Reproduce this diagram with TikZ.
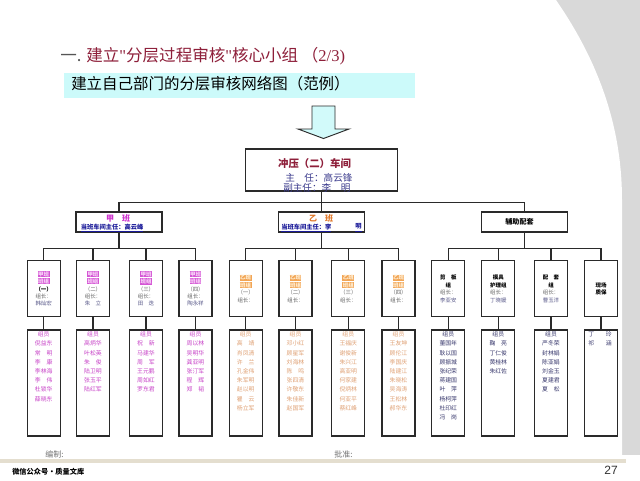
\documentclass[tikz,border=0pt]{standalone}
\usepackage{fontspec}
\setmainfont{Noto Sans CJK SC}
\newfontfamily\latinserif{Liberation Serif}
\newfontfamily\latinsans{Liberation Sans}
\definecolor{bggray}{HTML}{D9D9D9}
\definecolor{footband}{HTML}{E4DECF}
\definecolor{titlered}{HTML}{8E1F3A}
\definecolor{titlegray}{HTML}{555555}
\definecolor{subcyan}{HTML}{CCFAFA}
\definecolor{arrowcyan}{HTML}{D2FAFA}
\definecolor{navytxt}{HTML}{3A3A8C}
\definecolor{bluetxt}{HTML}{1A1A99}
\definecolor{magtxt}{HTML}{CC33CC}
\definecolor{oratxt}{HTML}{E0782A}
\definecolor{hlmag}{HTML}{D455D4}
\definecolor{hlmagtxt}{HTML}{F9D6F9}
\definecolor{hlora}{HTML}{F2A555}
\definecolor{hloratxt}{HTML}{FFF0D8}
\definecolor{memmag}{HTML}{C844C8}
\definecolor{memora}{HTML}{E0A276}
\definecolor{memnavy}{HTML}{3A3A6E}
\definecolor{grouptxt}{HTML}{666666}
\definecolor{namec}{HTML}{5A5A8A}
\definecolor{linec}{HTML}{2A2A2A}
\newcommand{\hlm}[1]{{\setlength{\fboxsep}{0.3pt}\colorbox{hlmag}{\textcolor{hlmagtxt}{\bfseries #1}}}}
\newcommand{\hlo}[1]{{\setlength{\fboxsep}{0.3pt}\colorbox{hlora}{\textcolor{hloratxt}{\bfseries #1}}}}
\newcommand{\sq}{{\latinserif\char"22}}
\tikzset{
  ln/.style={draw=linec, line width=0.85pt},
  bx/.style={draw=linec, line width=0.85pt, fill=white, inner sep=0pt},
  topbox/.style={bx, minimum width=114pt, minimum height=31.5pt},
  secbox/.style={bx, minimum width=64.5pt, minimum height=15pt},
  grpbox/.style={bx, minimum width=24.75pt, minimum height=42pt, align=center,
    text=grouptxt, font=\fontsize{4.1}{5.6}\selectfont},
  membox/.style={bx, minimum width=24.75pt, minimum height=79.5pt},
  memtxt/.style={anchor=north, align=center, inner sep=0pt, font=\fontsize{4.4}{6.9}\selectfont},
  plain/.style={inner sep=0pt}
}
\begin{document}
\begin{tikzpicture}[x=0.75pt,y=-0.75pt]
\useasboundingbox (0,0) rectangle (640,480);
% background
\fill[white] (0,0) rectangle (640,480);
\fill[bggray] (540,0) rectangle (640,455);
\fill[white] (0,0) -- (556,0) .. controls (594,55) and (622,120) .. (622,200) -- (622,455) -- (0,455) -- cycle;
\fill[footband] (0,458.5) rectangle (626,463);

% title
\node[plain, anchor=west, font=\fontsize{12.4}{14}\selectfont] (title) at (60,56)
  {\textcolor{titlegray}{一.} \textcolor{titlered}{建立\sq 分层过程审核\sq 核心小组 （{\latinserif 2/3)}}};
\node[plain, fill=subcyan, minimum width=263.25pt, minimum height=18.75pt, anchor=north west] (sub) at (64,73) {};
\node[plain, anchor=west, font=\fontsize{11.6}{13}\selectfont] (subt) at (71,83.5) {建立自己部门的分层审核网络图（范例）};

% arrow
\draw[fill=arrowcyan, draw=linec, line width=0.7pt]
  (312,106) -- (335,106) -- (335,129) -- (349,129) -- (323.5,138.5) -- (298,129) -- (312,129) -- cycle;

% top box
\node[topbox] (top) at (321.5,170) {};
\node[plain, font=\bfseries\fontsize{7.8}{9}\selectfont, text=titlered] (topt) at (314.5,163.5) {冲压（二）车间};
\node[plain, anchor=west, font=\fontsize{7.2}{8}\selectfont, text=navytxt] (dir1) at (285,177.5) {主　任：高云锋};
\node[plain, anchor=west, font=\fontsize{7.2}{8}\selectfont, text=navytxt] (dir2) at (283,187.5) {副主任：李　明};

% second level
\node[secbox] (jia) at (119,222) {};
\node[plain, text=magtxt, font=\bfseries\fontsize{6}{7}\selectfont] (jiat) at (118,218) {甲　班};
\node[plain, anchor=west, text=bluetxt, font=\bfseries\fontsize{4.7}{5}\selectfont] (jiad) at (80.5,228) {\underline{当班车间主任：高云峰}};

\node[secbox] (yi) at (321.5,222) {};
\node[plain, text=oratxt, font=\bfseries\fontsize{6}{7}\selectfont] (yit) at (321,218) {乙　班};
\node[plain, anchor=west, text=bluetxt, font=\bfseries\fontsize{4.7}{5}\selectfont] (yid) at (281,228) {\underline{当班车间主任：李}};
\node[plain, text=bluetxt, font=\bfseries\fontsize{4.7}{5}\selectfont] (yid2) at (358.5,228) {\underline{明}};

\node[secbox] (fz) at (524.5,222) {};
\node[plain, font=\bfseries\fontsize{5.3}{6}\selectfont] (fzt) at (519.5,222) {辅助配套};

\draw[ln] (top.south) -- (yi.north);
\draw[ln] (top.south) -- ++(0,11) -| (jia.north);
\draw[ln] (top.south) -- ++(0,11) -| (fz.north);

% group boxes
\node[grpbox] (g1) at (43.7,288.7) {\hlm{甲班}\\\hlm{班组}\\{\color{black}\bfseries（一）}\\组长：\\{\color{namec}韩灿宏}};
\node[grpbox] (g2) at (93,288.7) {\hlm{甲班}\\\hlm{班组}\\（二）\\组长：\\{\color{namec}朱　立}};
\node[grpbox] (g3) at (146,288.7) {\hlm{甲班}\\\hlm{班组}\\（三）\\组长：\\{\color{namec}田　迭}};
\node[grpbox] (g4) at (195.5,288.7) {\hlm{甲班}\\\hlm{班组}\\（四）\\组长：\\{\color{namec}陶永祥}};
\node[grpbox] (g5) at (245.7,288.7) {\hlo{乙班}\\\hlo{班组}\\（一）\\组长：};
\node[grpbox] (g6) at (295.5,288.7) {\hlo{乙班}\\\hlo{班组}\\（二）\\组长：};
\node[grpbox] (g7) at (348.3,288.7) {\hlo{乙班}\\\hlo{班组}\\（三）\\组长：};
\node[grpbox] (g8) at (398.5,288.7) {\hlo{乙班}\\\hlo{班组}\\（四）\\组长：};
\node[grpbox] (g9) at (448.3,288.7) {{\color{black}\bfseries 剪　板}\\{\color{black}\bfseries 组}\\组长：\\{\color{namec}李亚安}};
\node[grpbox] (g10) at (498.3,288.7) {{\color{black}\bfseries 模具}\\{\color{black}\bfseries 护理组}\\组长：\\{\color{namec}丁晓媛}};
\node[grpbox] (g11) at (551,288.7) {{\color{black}\bfseries 配　套}\\{\color{black}\bfseries 组}\\组长：\\{\color{namec}曹玉洋}};
\node[grpbox] (g12) at (601,288.7) {{\color{black}\bfseries 现场}\\{\color{black}\bfseries 质保}};

\foreach \g in {g1,g2,g3,g4} \draw[ln] (jia.south) -- ++(0,16) -| (\g.north);
\foreach \g in {g5,g6,g7,g8} \draw[ln] (yi.south) -- ++(0,16) -| (\g.north);
\foreach \g in {g9,g10,g11,g12} \draw[ln] (fz.south) -- ++(0,16) -| (\g.north);

% member boxes
\foreach \i/\x in {1/43.7,2/93,3/146,4/195.5,5/245.7,6/295.5,7/348.3,8/398.5,9/448.3,10/498.3,11/551,12/601}{
  \node[membox] (m\i) at (\x,383) {};
  \draw[ln] (g\i.south) -- (m\i.north);
}
\node[memtxt, text=memmag] (t1) at (43.7,331.5) {组员\\倪益东\\常　明\\李　康\\李林海\\李　伟\\杜锁华\\薛晓东};
\node[memtxt, text=memmag] (t2) at (93,331.5) {组员\\高炳华\\叶松英\\朱　俊\\陆卫明\\张玉平\\陆红军};
\node[memtxt, text=memmag] (t3) at (146,331.5) {组员\\祝　新\\马建华\\周　军\\王元鹏\\周如红\\罗东君};
\node[memtxt, text=memmag] (t4) at (195.5,331.5) {组员\\周以林\\吴明华\\龚亚明\\张汀军\\程　辉\\郑　韬};
\node[memtxt, text=memora] (t5) at (245.7,331.5) {组员\\高　靖\\肖凤清\\许　兰\\孔金伟\\朱军明\\赵以明\\瞿　云\\杨立军};
\node[memtxt, text=memora] (t6) at (295.5,331.5) {组员\\邓小红\\顾星军\\刘海林\\陈　鸣\\张四清\\许敬东\\朱佳新\\赵国军};
\node[memtxt, text=memora] (t7) at (348.3,331.5) {组员\\王福庆\\谢俊新\\朱兴江\\高亚明\\何家建\\倪炳林\\何亚平\\蔡红峰};
\node[memtxt, text=memora] (t8) at (398.5,331.5) {组员\\王友坤\\顾伦江\\李国庆\\陆建江\\朱晓松\\吴海涛\\王松林\\郝华东};
\node[memtxt, text=memnavy] (t9) at (448.3,331.5) {组员\\董国年\\耿以国\\顾振城\\张纪荣\\蒋建国\\叶　萍\\杨柯萍\\杜印红\\冯　岗};
\node[memtxt, text=memnavy] (t10) at (498.3,331.5) {组员\\鞠　亮\\丁仁俊\\黄桂林\\朱红佐};
\node[memtxt, text=memnavy] (t11) at (551,331.5) {组员\\严冬荣\\封林娟\\陈亚娟\\刘金玉\\夏建君\\夏　松};
\node[memtxt, text=memnavy] (t12) at (600,331.5) {丁　　玲\\祁　　涵};

% footer
\node[plain, anchor=west, text=black!55, font=\fontsize{6}{7}\selectfont] (bz) at (45,454.5) {编制:};
\node[plain, anchor=west, text=black!55, font=\fontsize{6}{7}\selectfont] (pz) at (334,454.5) {批准:};
\node[plain, anchor=west, font=\bfseries\fontsize{5.4}{6}\selectfont] (wx) at (12,471.5) {微信公众号·质量文库};
\node[plain, text=black!80, font=\latinsans\fontsize{9}{10}\selectfont] (pg) at (611,470) {27};
\end{tikzpicture}
\end{document}
